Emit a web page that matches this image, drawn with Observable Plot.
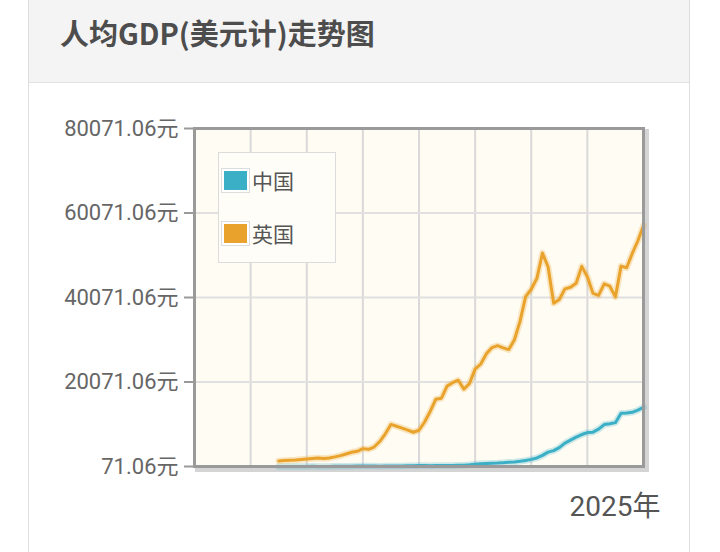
<!DOCTYPE html>
<html>
<head>
<meta charset="utf-8">
<script src="https://cdn.jsdelivr.net/npm/d3@7"></script>
<script src="https://cdn.jsdelivr.net/npm/@observablehq/plot@0.6"></script>
<style>
  html, body { margin: 0; padding: 0; background: #fff; width: 720px; height: 552px; overflow: hidden; }
  body { position: relative; font-family: Roboto, "Noto Sans CJK SC", sans-serif; }
  #card { position: absolute; left: 28px; top: -6px; width: 662px; height: 600px; border: 1px solid #dedede; border-radius: 6px; box-sizing: border-box; }
  #header { position: absolute; left: 0; top: 0; width: 100%; height: 87px; background: #f4f4f4; border-bottom: 1px solid #e2e2e2; border-radius: 6px 6px 0 0; }
  #title { position: absolute; left: 31px; top: 16px; font-family: "Noto Sans CJK SC", sans-serif; font-weight: bold; font-size: 29px; color: #4d4d4d; letter-spacing: 0px; }
  #chart { position: absolute; left: 0; top: 82px; }
  #legend { position: absolute; left: 218px; top: 152px; width: 118px; height: 111px; border: 1px solid #dcdcdc; background: #fffdf7; box-sizing: border-box; }
  .item { position: absolute; left: 3px; height: 24px; display: flex; align-items: center; font-family: "Noto Sans CJK SC", sans-serif; font-size: 21px; color: #555; }
  .sw { width: 23px; height: 19px; border: 2px solid #fff; outline: 1px solid #ddd; margin-right: 3px; }
</style>
</head>
<body>
<div id="card"><div id="header"><div id="title">人均GDP(美元计)走势图</div></div></div>
<div id="chart"></div>
<div id="legend"></div>
<script>
const years = d3.range(1960, 2026);
const seriesNames = ["中国", "英国"];
const seriesColors = ["#3bafc6", "#e9a32c"];
const chinaValues = [90, 76, 71, 75, 85, 98, 104, 97, 91, 100,
  113, 119, 132, 157, 160, 178, 165, 185, 156, 184,
  195, 197, 203, 225, 251, 294, 282, 252, 284, 311,
  318, 333, 366, 377, 473, 610, 709, 782, 829, 873,
  959, 1053, 1149, 1289, 1509, 1753, 2099, 2694, 3468, 3832,
  4550, 5614, 6301, 7020, 7636, 8100, 8200, 8900, 10000, 10200,
  10450, 12700, 12750, 12900, 13400, 14100];
const ukValues = [1400, 1470, 1530, 1610, 1750, 1870, 1990, 2060, 1950, 2100,
  2350, 2650, 3030, 3430, 3670, 4300, 4140, 4680, 5980, 7800,
  10030, 9600, 9150, 8690, 8180, 8650, 10610, 13120, 15990, 16240,
  19100, 19900, 20490, 18390, 19710, 23120, 24330, 26730, 28210, 28670,
  28150, 27740, 30060, 34420, 40290, 42030, 44600, 50570, 47290, 38710,
  39600, 42110, 42500, 43430, 47440, 44960, 41050, 40570, 43310, 42750,
  40220, 47500, 47100, 50500, 53500, 57100];
const yTicks = [71.06, 20071.06, 40071.06, 60071.06, 80071.06];
const xGrid = [1955, 1965, 1975, 1985, 1995, 2005, 2015];
const xLabel = "2025年";

const rows = [];
years.forEach((y, i) => {
  rows.push({year: y, value: chinaValues[i], name: seriesNames[0]});
  rows.push({year: y, value: ukValues[i], name: seriesNames[1]});
});

const chart = Plot.plot({
  width: 720,
  height: 470,
  marginLeft: 194,
  marginRight: 77,
  marginTop: 46,
  marginBottom: 86,
  style: {background: "transparent", fontFamily: "Roboto, 'Noto Sans CJK SC', sans-serif"},
  x: {domain: [1945, 2025], axis: null},
  y: {domain: [71.06, 80071.06], axis: null},
  color: {domain: seriesNames, range: seriesColors},
  marks: [
    Plot.frame({stroke: "#b8b8b8", strokeOpacity: 0.6, strokeWidth: 5, dx: 3, dy: 3}),
    Plot.frame({fill: "#fffcf3", stroke: null}),
    Plot.ruleX(xGrid, {stroke: "#d9d9d9", strokeWidth: 2}),
    Plot.ruleY(yTicks.slice(1, -1), {stroke: "#e0e0e0", strokeWidth: 2}),
    Plot.line(rows, {x: "year", y: "value", z: "name", stroke: "name", strokeWidth: 6.5, strokeOpacity: 0.25, curve: "linear"}),
    Plot.line(rows, {x: "year", y: "value", z: "name", stroke: "name", strokeWidth: 3, curve: "linear"}),
    Plot.axisY({ticks: yTicks, tickFormat: d => d.toFixed(2) + "元", tickSize: 10, tickPadding: 6, fontSize: 22, stroke: "#9a9a9a", strokeWidth: 2, color: "#666", label: null}),
    Plot.frame({stroke: "#9a9a9a", strokeWidth: 3}),
    Plot.text([xLabel], {frameAnchor: "bottom-right", text: d => d, dx: 17, dy: 49, fontSize: 28, fill: "#555", textAnchor: "end"})
  ]
});
document.getElementById("chart").appendChild(chart);

const legend = document.getElementById("legend");
seriesNames.forEach((n, i) => {
  const item = document.createElement("div");
  item.className = "item";
  item.style.top = (15 + i * 53) + "px";
  const sw = document.createElement("div");
  sw.className = "sw";
  sw.style.background = seriesColors[i];
  item.appendChild(sw);
  const t = document.createElement("span");
  t.textContent = n;
  item.appendChild(t);
  legend.appendChild(item);
});
</script>
</body>
</html>
